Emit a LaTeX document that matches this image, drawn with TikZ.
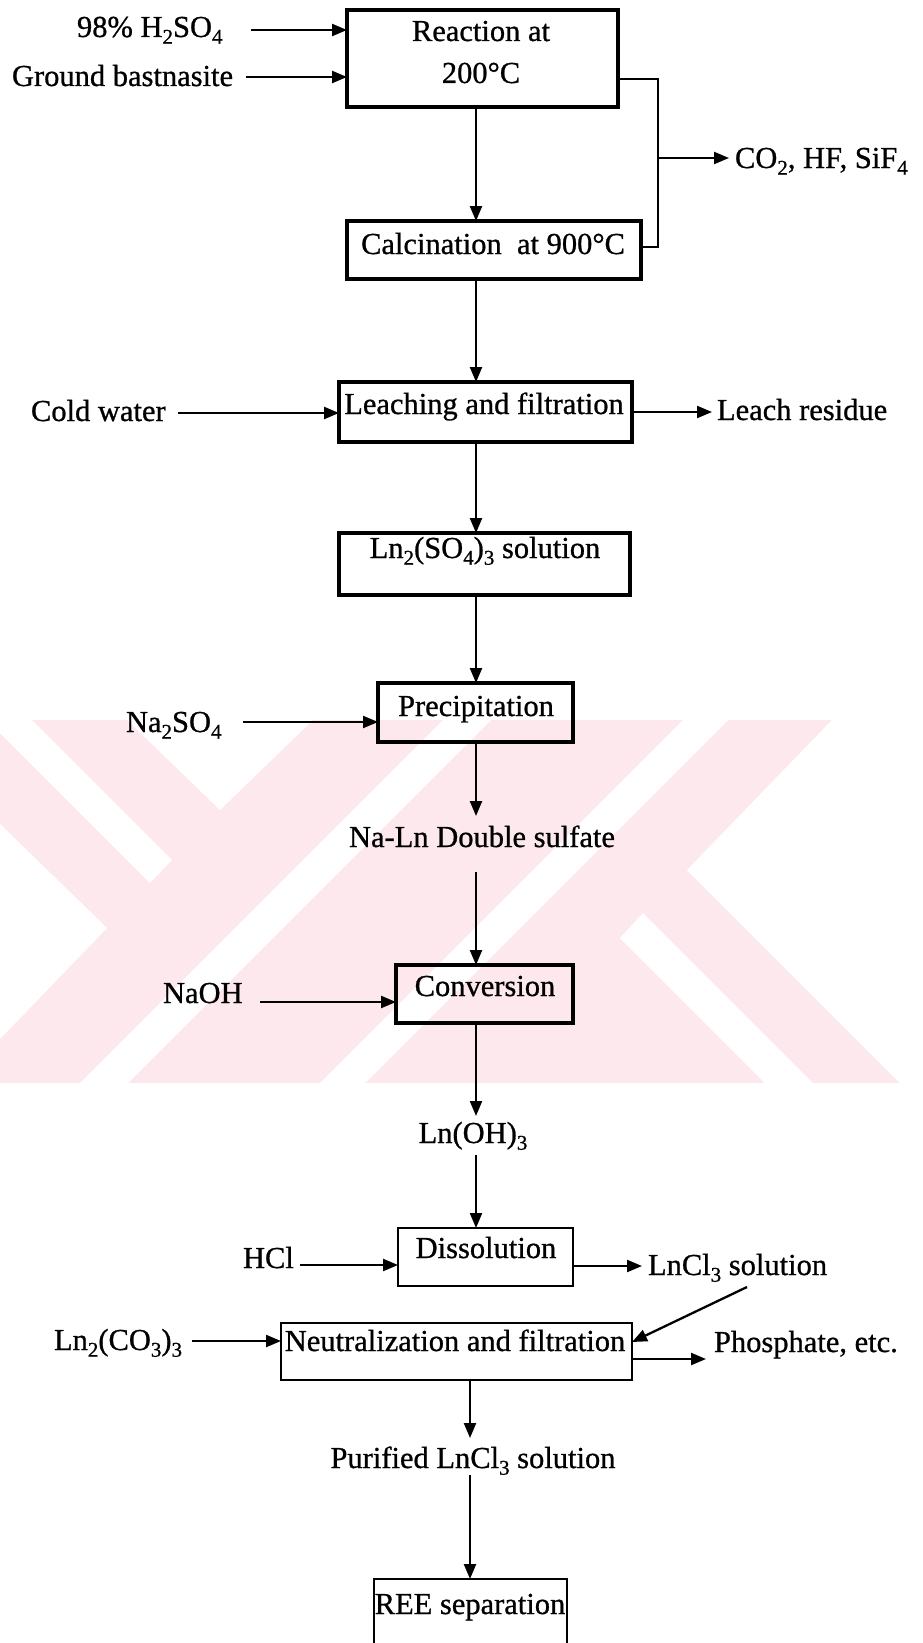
\documentclass[tikz,border=0pt]{standalone}
\usepackage{fontspec}
\setmainfont{Liberation Serif}[FakeBold=0.8]
\usetikzlibrary{arrows.meta}
% chemical subscript
\newcommand{\sbs}[1]{\raisebox{-0.22em}{\fontsize{21}{21}\selectfont #1}}
\begin{document}
\begin{tikzpicture}[x=1pt,y=-1pt,
  every node/.style={inner sep=0pt, outer sep=0pt},
  txt/.style={font=\fontsize{30.5}{36}\selectfont, anchor=base},
  lbl/.style={font=\fontsize{30.5}{36}\selectfont, anchor=base west},
  midtxt/.style={txt, text height=22pt, text depth=7pt},
  boxA/.style={draw, line width=3.4pt, rectangle},
  boxB/.style={draw, line width=2.5pt, rectangle},
  arr/.style={line width=2.3pt, -{Triangle[length=15pt,width=12pt]}},
  link/.style={line width=2.3pt},
  wm/.style={fill={rgb,255:red,253;green,233;blue,237}}
]
\useasboundingbox (0,0) rectangle (923,1643);
\clip (0,0) rectangle (923,1643);
\fill[white] (0,0) rectangle (923,1643);

% background watermark
\begin{scope}
  \clip (0,720) rectangle (911,1083);
  \fill[wm] (0,720) rectangle (911,1083);
  \fill[white] (-13,720) -- (32,720) -- (172,860) -- (150,883) -- cycle;
  \fill[white] (127,720) -- (313,720) -- (220,810) -- cycle;
  \fill[white] (-1,823) -- (107,928) -- (-1,1040) -- cycle;
  \fill[white] (80,1083) -- (128,1083) -- (491,720) -- (443,720) -- cycle;
  \fill[white] (320,1083) -- (365,1083) -- (728,720) -- (683,720) -- cycle;
  \fill[white] (832,720) -- (687,870) -- (900,1083) -- (930,1083) -- (930,720) -- cycle;
  \fill[white] (643,913) -- (813,1083) -- (765,1083) -- (620,938) -- cycle;
\end{scope}

% process boxes
\node[boxA, minimum width=271pt, minimum height=97pt] (reac)  at (482.5,58.5) {};
\node[boxA, minimum width=294pt, minimum height=58pt] (calc)  at (494,250) {};
\node[boxA, minimum width=293pt, minimum height=60pt] (leach) at (485.5,412) {};
\node[boxA, minimum width=291pt, minimum height=62pt] (lnso)  at (484.5,564) {};
\node[boxA, minimum width=195pt, minimum height=59pt] (prec)  at (475.5,712.5) {};
\node[boxA, minimum width=177pt, minimum height=58pt] (conv)  at (484.5,994) {};
\node[boxB, minimum width=175pt, minimum height=58pt] (diss)  at (485.5,1257) {};
\node[boxB, minimum width=351pt, minimum height=57pt] (neut)  at (456.5,1351.5) {};
\node[boxB, minimum width=193pt, minimum height=80pt] (ree)   at (470.5,1619) {};

% box captions
\node[txt] (reacA)  at (481,41) {Reaction at};
\node[txt] (reacB)  at (481,83) {200°C};
\node[txt] (calcT)  at (493,254) {Calcination\ \ at 900°C};
\node[txt] (leachT) at (484,414) {Leaching and filtration};
\node[txt] (lnsoT)  at (485,558) {Ln\sbs{2}(SO\sbs{4})\sbs{3} solution};
\node[txt] (precT)  at (476,716) {Precipitation};
\node[txt] (convT)  at (485,996) {Conversion};
\node[txt] (dissT)  at (486,1258) {Dissolution};
\node[txt] (neutT)  at (455,1351) {Neutralization and filtration};
\node[txt] (reeT)   at (470,1614) {REE separation};

% streams
\node[lbl] (h2so4)   at (77,37)    {98\% H\sbs{2}SO\sbs{4}};
\node[lbl] (ground)  at (12,86)    {Ground bastnasite};
\node[lbl] (co2)     at (735,168)  {CO\sbs{2}, HF, SiF\sbs{4}};
\node[lbl] (cold)    at (31,421)   {Cold water};
\node[lbl] (residue) at (717,420)  {Leach residue};
\node[lbl] (na2so4)  at (126,732)  {Na\sbs{2}SO\sbs{4}};
\node[midtxt] (double) at (482,847) {Na-Ln Double sulfate};
\node[lbl] (naoh)    at (163,1003) {NaOH};
\node[midtxt] (lnoh) at (473,1143) {Ln(OH)\sbs{3}};
\node[lbl] (hcl)     at (243,1268) {HCl};
\node[lbl] (lncl3)   at (648,1275) {LnCl\sbs{3} solution};
\node[lbl] (ln2co3)  at (54,1350)  {Ln\sbs{2}(CO\sbs{3})\sbs{3}};
\node[lbl] (phos)    at (714,1352) {Phosphate, etc.};
\node[midtxt] (purified) at (473,1468) {Purified LnCl\sbs{3} solution};

% reference points for the connectors
\coordinate (spine)  at (476,0);
\coordinate (spineB) at (470,0);
\coordinate (h2so4A) at (251,30);
\coordinate (groundA) at (246,77);
\coordinate (bus)    at (658,158);
\coordinate (coldA)  at (178,413);
\coordinate (na2A)   at (243,722);
\coordinate (naohA)  at (260,1002);
\coordinate (hclA)   at (300,1265);
\coordinate (lnclB)  at (747,1287);
\coordinate (ln2A)   at (192,1341);
\coordinate (dissOut) at ([yshift=-9pt]diss.east);
\coordinate (neutOut) at ([yshift=-7.5pt]neut.east);

% connectors
\draw[arr] (h2so4A) -- (h2so4A -| reac.west);
\draw[arr] (groundA) -- (groundA -| reac.west);
\draw[arr] (reac.south -| spine) -- (calc.north -| spine);
\draw[link] ([yshift=-20.5pt]reac.east) -| (bus) |- ([yshift=3pt]calc.east);
\draw[arr, shorten >=6pt] (bus) -- (bus -| co2.west);
\draw[arr] (calc.south -| spine) -- (leach.north -| spine);
\draw[arr] (coldA) -- (coldA -| leach.west);
\draw[arr, shorten >=5pt] (leach.east) -- (leach.east -| residue.west);
\draw[arr] (leach.south -| spine) -- (lnso.north -| spine);
\draw[arr] (lnso.south -| spine) -- (prec.north -| spine);
\draw[arr] (na2A) -- (na2A -| prec.west);
\draw[arr, shorten >=9pt] (prec.south -| spine) -- (double.north -| spine);
\draw[arr, shorten <=18pt] (double.south -| spine) -- (conv.north -| spine);
\draw[arr] (naohA) -- (naohA -| conv.west);
\draw[arr, shorten >=5pt] (conv.south -| spine) -- (lnoh.north -| spine);
\draw[arr, shorten <=5pt] (lnoh.south -| spine) -- (diss.north -| spine);
\draw[arr] (hclA) -- (hclA -| diss.west);
\draw[arr, shorten >=6pt] (dissOut) -- (dissOut -| lncl3.west);
\draw[arr] (lnclB) -- ([yshift=9.5pt]neut.east);
\draw[arr] (ln2A) -- (ln2A -| neut.west);
\draw[arr, shorten >=8pt] (neutOut) -- (neutOut -| phos.west);
\draw[arr, shorten >=8pt] (neut.south -| spineB) -- (purified.north -| spineB);
\draw[arr] (purified.south -| spineB) -- (ree.north -| spineB);
\end{tikzpicture}
\end{document}
